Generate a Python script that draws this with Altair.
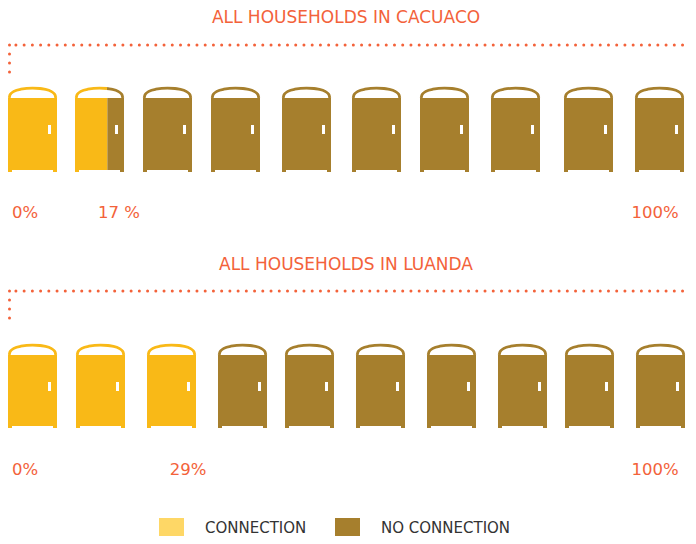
import altair as alt
import pandas as pd

FONT = "DejaVu Sans"
ORANGE = "#F3623A"
YELLOW = "#F9B917"
BROWN = "#A67F2D"
LEGEND_YELLOW = "#FED766"
W_MIN, W_MAX, H_MIN, H_MAX = 8, 688, 8, 536

titles = ["ALL HOUSEHOLDS IN CACUACO", "ALL HOUSEHOLDS IN LUANDA"]
title_x = [346, 346]
title_y = [18, 265]

door_left_1 = [8, 75, 143, 211, 282, 352, 420, 491, 564, 635]
door_left_2 = [8, 76, 147, 218, 285, 356, 427, 498, 565, 636]
door_filled_1 = [1, 0.66, 0, 0, 0, 0, 0, 0, 0, 0]
door_filled_2 = [1, 1, 1, 0, 0, 0, 0, 0, 0, 0]
body_top = [98, 355]
body_bottom = [172, 428]
dots_y = [45, 291]
dots_end = [73, 319]
dots_row_start = [15.9, 15.9]
dots_col_x = [9.5, 9.5]

pct_labels = ["0%", "17 %", "100%", "0%", "29%", "100%"]
pct_x = [25, 119, 655, 25, 188, 655]
pct_y = [213, 213, 213, 470, 470, 470]

legend_labels = ["CONNECTION", "NO CONNECTION"]
legend_swatch_left = [159, 335]
legend_text_x = [205, 381]
legend_colors = [LEGEND_YELLOW, BROWN]

roof_frac = [0.0, 0.02, 0.1, 0.25, 0.5, 0.66, 0.75, 0.9, 0.98, 1.0]
roof_rise = [0, 3.5, 6.6, 8.8, 9.8, 9.5, 8.8, 6.6, 3.5, 0]

DOOR_W = 49
rects, whites, roofs = [], [], []
for r, (lefts, fills) in enumerate([(door_left_1, door_filled_1), (door_left_2, door_filled_2)]):
    top, bot = body_top[r], body_bottom[r]
    for i, (l, f) in enumerate(zip(lefts, fills)):
        split = l + DOOR_W * f
        if f > 0:
            rects.append(dict(x=l, x2=split, y=top, y2=bot, c=YELLOW))
        if f < 1:
            rects.append(dict(x=split, x2=l + DOOR_W, y=top, y2=bot, c=BROWN))
        whites.append(dict(x=l + 40, x2=l + 43, y=top + 27, y2=top + 36))
        whites.append(dict(x=l + 4, x2=l + DOOR_W - 4, y=bot - 2, y2=bot))
        for fr, rise in zip(roof_frac, roof_rise):
            px = l + 1.2 + (DOOR_W - 2.4) * fr
            if f > 0 and fr <= f:
                roofs.append(dict(x=px, y=top - rise, d=f"{r}-{i}-y", c=YELLOW))
            if f < 1 and fr >= f:
                roofs.append(dict(x=px, y=top - rise, d=f"{r}-{i}-b", c=BROWN))

x_s = alt.Scale(domain=[W_MIN, W_MAX], range=[0, W_MAX - W_MIN], nice=False, zero=False)
y_s = alt.Scale(domain=[H_MIN, H_MAX], range=[0, H_MAX - H_MIN], nice=False, zero=False)
X = lambda f="x": alt.X(f"{f}:Q", scale=x_s, axis=None)
Y = lambda f="y": alt.Y(f"{f}:Q", scale=y_s, axis=None)
C = alt.Color("c:N", scale=None, legend=None)

body = alt.Chart(pd.DataFrame(rects)).mark_rect().encode(
    x=X(), x2="x2:Q", y=Y(), y2="y2:Q", color=C)
white = alt.Chart(pd.DataFrame(whites)).mark_rect(color="white").encode(
    x=X(), x2="x2:Q", y=Y(), y2="y2:Q")
roof_df = pd.DataFrame(roofs)
roof_layers = []
for c in [BROWN, YELLOW]:
    sub = roof_df[roof_df.c == c]
    roof_layers.append(alt.Chart(sub).mark_line(color=c, strokeWidth=2.8, interpolate="monotone").encode(
        x=X(), y=Y(), detail="d:N", order="x:Q"))

h = pd.DataFrame(dict(x=dots_row_start, x2=[688, 688], y=dots_y))
v = pd.DataFrame(dict(x=dots_col_x, y=dots_y, y2=dots_end))
h_dots = alt.Chart(h).mark_rule(color=ORANGE, strokeWidth=3, strokeCap="round", strokeDash=[0.01, 8.22]).encode(
    x=X(), x2="x2:Q", y=Y())
v_dots = alt.Chart(v).mark_rule(color=ORANGE, strokeWidth=3, strokeCap="round", strokeDash=[0.01, 9]).encode(
    x=X(), y=Y(), y2="y2:Q")

t_df = pd.DataFrame(dict(x=title_x, y=title_y, t=titles))
t = alt.Chart(t_df).mark_text(font=FONT, fontSize=17, color=ORANGE, align="center", baseline="middle").encode(
    x=X(), y=Y(), text="t:N")
p_df = pd.DataFrame(dict(x=pct_x, y=pct_y, t=pct_labels))
p = alt.Chart(p_df).mark_text(font=FONT, fontSize=16.5, color=ORANGE, align="center", baseline="middle").encode(
    x=X(), y=Y(), text="t:N")

sw_df = pd.DataFrame(dict(x=legend_swatch_left, x2=[v + 25 for v in legend_swatch_left],
                          y=[518, 518], y2=[536, 536], c=legend_colors))
sw = alt.Chart(sw_df).mark_rect().encode(x=X(), x2="x2:Q", y=Y(), y2="y2:Q", color=C)
lt_df = pd.DataFrame(dict(x=legend_text_x, y=[528, 528], t=legend_labels))
lt = alt.Chart(lt_df).mark_text(font=FONT, fontSize=15, color="#333333", align="left", baseline="middle").encode(
    x=X(), y=Y(), text="t:N")

chart = alt.layer(h_dots, v_dots, *roof_layers, body, white, t, p, sw, lt).properties(
    width=W_MAX - W_MIN, height=H_MAX - H_MIN, padding=0,
    autosize=alt.AutoSizeParams(type="none"),
).configure_view(stroke=None)

chart.save("out.html", embed_options={"renderer": "svg", "actions": False})
